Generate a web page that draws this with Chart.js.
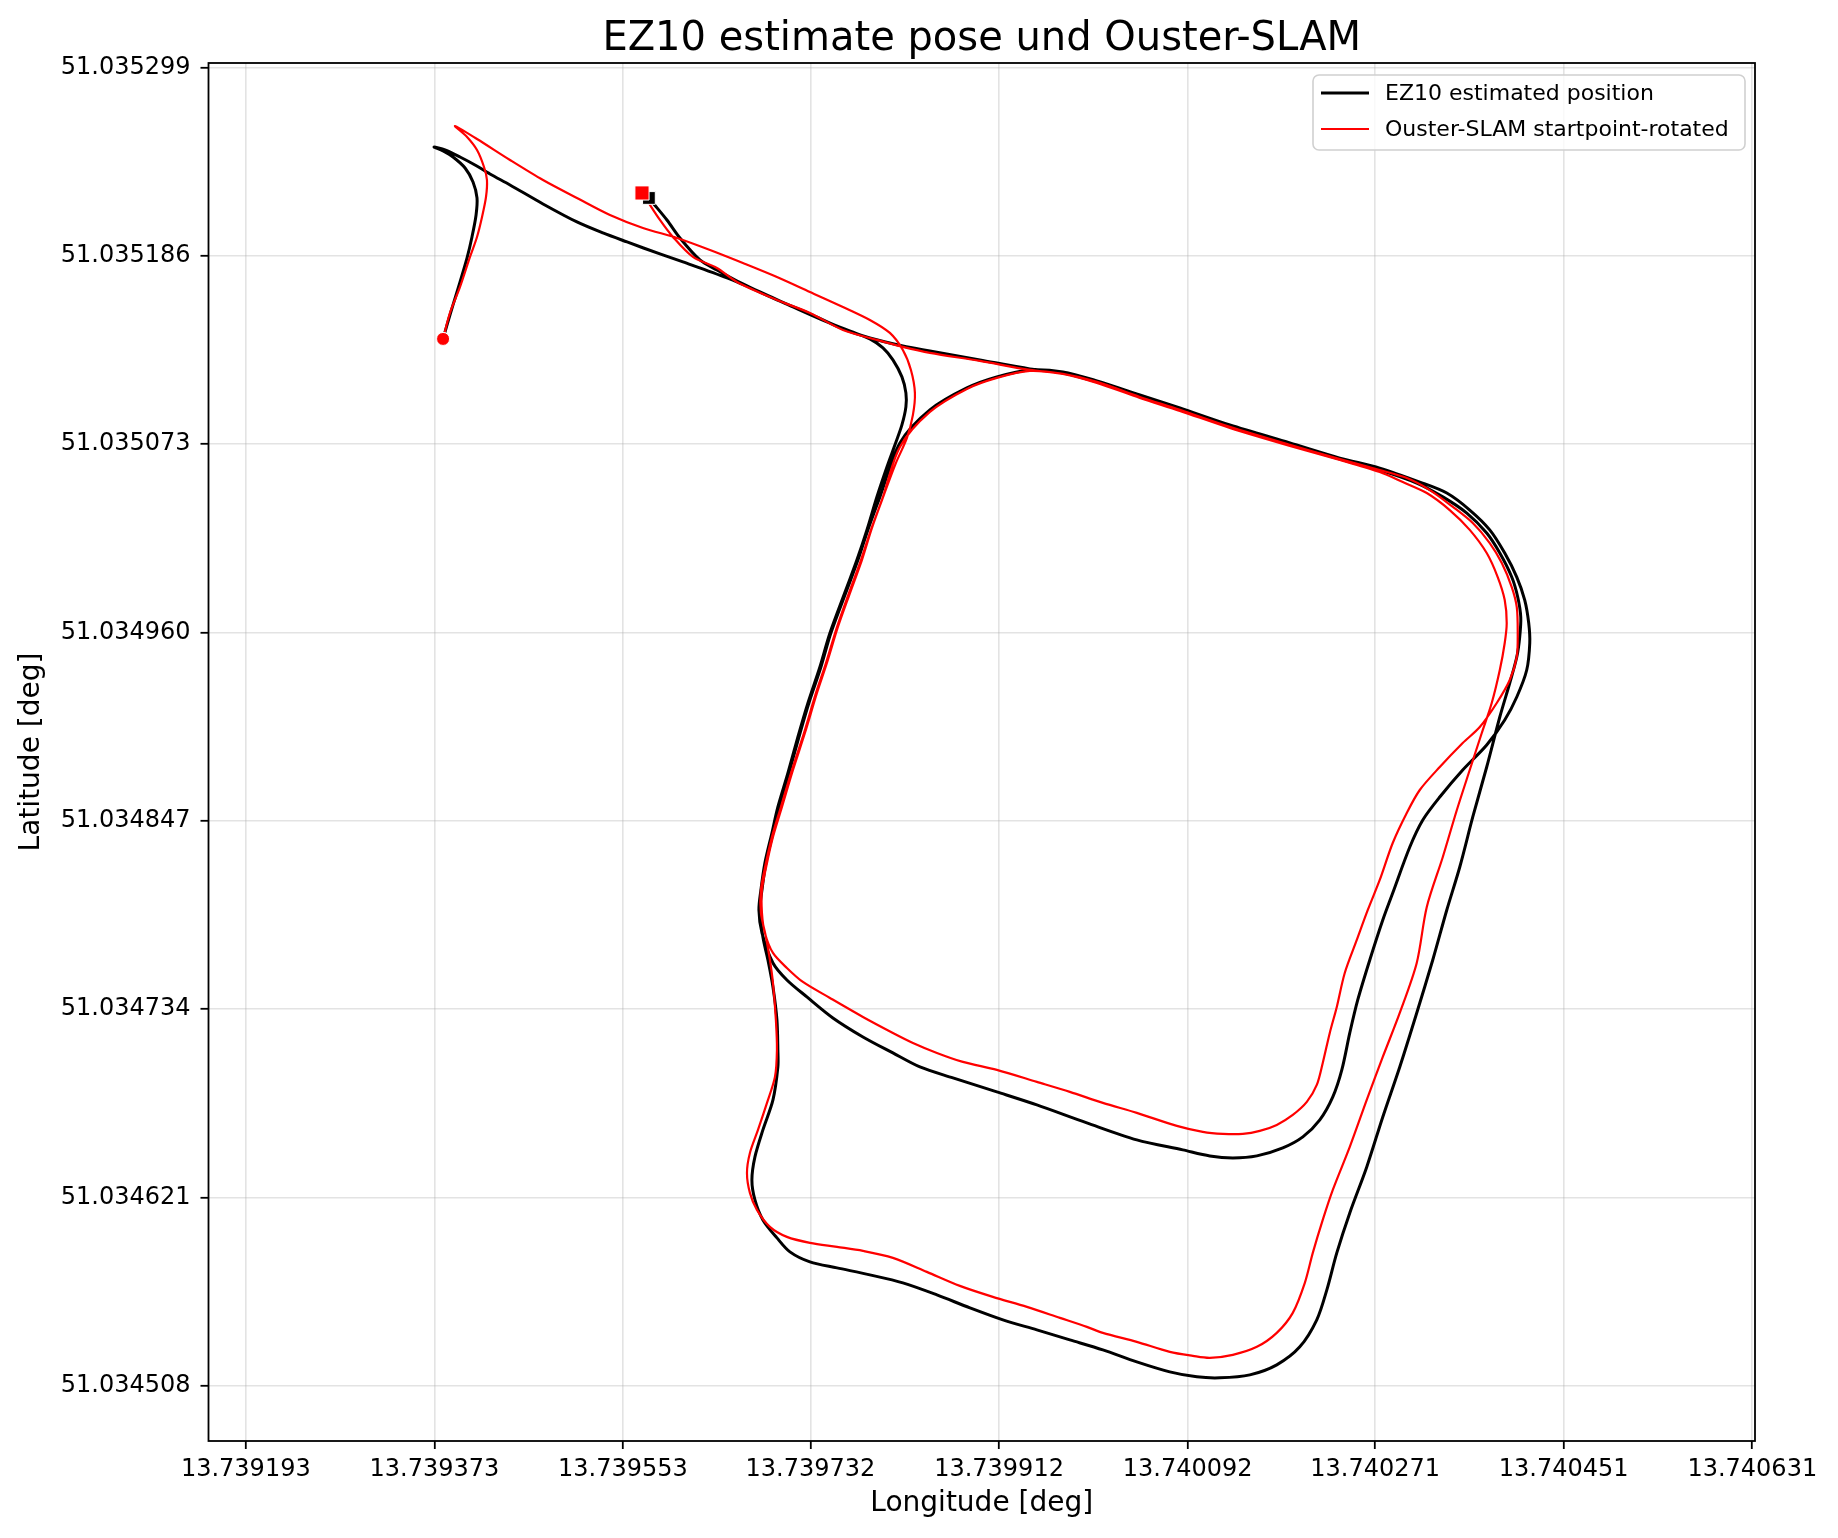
<!DOCTYPE html>
<html><head><meta charset="utf-8">
<script src="https://cdn.jsdelivr.net/npm/chart.js@4.4.1/dist/chart.umd.min.js"></script>
<style>html,body{margin:0;padding:0;background:#fff}#wrap{width:1838px;height:1538px}</style>
</head><body><div id="wrap"><canvas id="c" width="1838" height="1538" style="width:1838px;height:1538px"></canvas></div>
<script>
const titleText = 'EZ10 estimate pose und Ouster-SLAM';
const xLabel = 'Longitude [deg]';
const yLabel = 'Latitude [deg]';
const seriesNames = ['EZ10 estimated position', 'Ouster-SLAM startpoint-rotated'];
const lonTicks = [13.739193, 13.739373, 13.739553, 13.739732, 13.739912, 13.740092, 13.740271, 13.740451, 13.740631];
const latTicks = [51.034508, 51.034621, 51.034734, 51.034847, 51.034960, 51.035073, 51.035186, 51.035299];
const lonRange = [13.7391574, 13.7406336];
const latRange = [51.0344748, 51.0353018];

const ez10Lon = [13.7393813,13.7393851,13.7393908,13.7393975,13.7394042,13.7394089,13.7394128,13.7394137,13.7394099,13.7394023,13.7393908,13.7393813,13.7393727,13.7393832,13.7393975,13.7394118,13.7394261,13.7394452,13.7394767,13.7395091,13.7395339,13.7395569,13.7395883,13.7396103,13.7396523,13.7396838,13.7397153,13.7397477,13.7397744,13.7397887,13.7398012,13.7398107,13.7398193,13.7398231,13.7398231,13.7398193,13.7398126,13.7398050,13.7397954,13.7397859,13.7397763,13.7397668,13.7397506,13.7397410,13.7397296,13.7397200,13.7397105,13.7397009,13.7396952,13.7396885,13.7396847,13.7396828,13.7396857,13.7396962,13.7397095,13.7397286,13.7397534,13.7397821,13.7398107,13.7398365,13.7398680,13.7399099,13.7399481,13.7399958,13.7400435,13.7400874,13.7401132,13.7401352,13.7401581,13.7401829,13.7402020,13.7402182,13.7402306,13.7402392,13.7402468,13.7402544,13.7402659,13.7402783,13.7402878,13.7403041,13.7403165,13.7403327,13.7403546,13.7403775,13.7403947,13.7404062,13.7404157,13.7404186,13.7404176,13.7404138,13.7404062,13.7403947,13.7403804,13.7403613,13.7403394,13.7403136,13.7402754,13.7402373,13.7401896,13.7401323,13.7400846,13.7400464,13.7400054,13.7399729,13.7399414,13.7399099,13.7398813,13.7398460,13.7398174,13.7397983,13.7397868,13.7397773,13.7397678,13.7397515,13.7397420,13.7397305,13.7397210,13.7397114,13.7397019,13.7396962,13.7396895,13.7396857,13.7396838,13.7396866,13.7396914,13.7396962,13.7397000,13.7397009,13.7397009,13.7396962,13.7396866,13.7396790,13.7396761,13.7396790,13.7396866,13.7397000,13.7397124,13.7397315,13.7397573,13.7397887,13.7398202,13.7398527,13.7398842,13.7399157,13.7399481,13.7399796,13.7400111,13.7400435,13.7400750,13.7401008,13.7401228,13.7401514,13.7401771,13.7401991,13.7402153,13.7402249,13.7402344,13.7402468,13.7402630,13.7402783,13.7402945,13.7403107,13.7403260,13.7403394,13.7403518,13.7403642,13.7403775,13.7403900,13.7403995,13.7404062,13.7404090,13.7404100,13.7404071,13.7404014,13.7403900,13.7403775,13.7403585,13.7403356,13.7403107,13.7402754,13.7402373,13.7401896,13.7401323,13.7400846,13.7400464,13.7400054,13.7399729,13.7399414,13.7398937,13.7398460,13.7398202,13.7397887,13.7397630,13.7397315,13.7397000,13.7396675,13.7396427,13.7396265,13.7396074,13.7395950,13.7395817,13.7395778];
const ez10Lat = [51.0351362,51.0351446,51.0351566,51.0351704,51.0351848,51.0351974,51.0352106,51.0352208,51.0352304,51.0352388,51.0352454,51.0352490,51.0352514,51.0352496,51.0352454,51.0352406,51.0352352,51.0352286,51.0352172,51.0352064,51.0351998,51.0351944,51.0351872,51.0351824,51.0351728,51.0351644,51.0351554,51.0351464,51.0351398,51.0351362,51.0351308,51.0351236,51.0351134,51.0351038,51.0350954,51.0350846,51.0350726,51.0350594,51.0350414,51.0350216,51.0350035,51.0349873,51.0349597,51.0349393,51.0349177,51.0348973,51.0348757,51.0348553,51.0348397,51.0348217,51.0348055,51.0347935,51.0347797,51.0347617,51.0347515,51.0347413,51.0347287,51.0347173,51.0347077,51.0346993,51.0346927,51.0346843,51.0346765,51.0346657,51.0346555,51.0346495,51.0346459,51.0346447,51.0346459,51.0346507,51.0346573,51.0346675,51.0346813,51.0346975,51.0347197,51.0347395,51.0347635,51.0347875,51.0348037,51.0348313,51.0348475,51.0348613,51.0348775,51.0348925,51.0349075,51.0349213,51.0349375,51.0349537,51.0349657,51.0349795,51.0349933,51.0350077,51.0350216,51.0350335,51.0350437,51.0350503,51.0350587,51.0350647,51.0350738,51.0350846,51.0350948,51.0351026,51.0351110,51.0351164,51.0351176,51.0351134,51.0351068,51.0350936,51.0350738,51.0350414,51.0350216,51.0350035,51.0349873,51.0349597,51.0349393,51.0349177,51.0348973,51.0348757,51.0348553,51.0348397,51.0348217,51.0348055,51.0347935,51.0347773,51.0347635,51.0347473,51.0347275,51.0347095,51.0346993,51.0346795,51.0346615,51.0346453,51.0346315,51.0346195,51.0346075,51.0345967,51.0345883,51.0345823,51.0345787,51.0345745,51.0345697,51.0345625,51.0345547,51.0345475,51.0345415,51.0345355,51.0345295,51.0345223,51.0345163,51.0345133,51.0345127,51.0345145,51.0345205,51.0345313,51.0345475,51.0345655,51.0345877,51.0346117,51.0346393,51.0346693,51.0346993,51.0347317,51.0347635,51.0347935,51.0348193,51.0348493,51.0348793,51.0349093,51.0349297,51.0349453,51.0349573,51.0349693,51.0349813,51.0349933,51.0350077,51.0350197,51.0350317,51.0350414,51.0350497,51.0350575,51.0350641,51.0350732,51.0350840,51.0350942,51.0351020,51.0351104,51.0351158,51.0351182,51.0351236,51.0351290,51.0351320,51.0351368,51.0351422,51.0351512,51.0351596,51.0351692,51.0351776,51.0351836,51.0351968,51.0352076,51.0352178,51.0352208];

const slamLon = [13.7393813,13.7393879,13.7393975,13.7394070,13.7394137,13.7394185,13.7394223,13.7394232,13.7394204,13.7394137,13.7394042,13.7393927,13.7394137,13.7394452,13.7394767,13.7395091,13.7395406,13.7395721,13.7396046,13.7396361,13.7396675,13.7397000,13.7397315,13.7397630,13.7397887,13.7398078,13.7398202,13.7398279,13.7398317,13.7398298,13.7398241,13.7398136,13.7398021,13.7397907,13.7397811,13.7397697,13.7397582,13.7397477,13.7397382,13.7397267,13.7397153,13.7397048,13.7396962,13.7396905,13.7396857,13.7396857,13.7396885,13.7396962,13.7397095,13.7397248,13.7397506,13.7397821,13.7398107,13.7398298,13.7398527,13.7398775,13.7399099,13.7399481,13.7399796,13.7400111,13.7400435,13.7400817,13.7401065,13.7401256,13.7401447,13.7401609,13.7401771,13.7401924,13.7402058,13.7402153,13.7402210,13.7402277,13.7402344,13.7402420,13.7402535,13.7402640,13.7402754,13.7402878,13.7403012,13.7403136,13.7403327,13.7403546,13.7403709,13.7403871,13.7403995,13.7404062,13.7404071,13.7404062,13.7404014,13.7403919,13.7403804,13.7403642,13.7403452,13.7403232,13.7403012,13.7402754,13.7402373,13.7401896,13.7401323,13.7400846,13.7400464,13.7400054,13.7399729,13.7399414,13.7399099,13.7398813,13.7398460,13.7398174,13.7398002,13.7397897,13.7397802,13.7397687,13.7397573,13.7397468,13.7397372,13.7397258,13.7397143,13.7397038,13.7396952,13.7396895,13.7396847,13.7396847,13.7396895,13.7396933,13.7396962,13.7396990,13.7397000,13.7396981,13.7396905,13.7396819,13.7396742,13.7396714,13.7396742,13.7396809,13.7396933,13.7397095,13.7397315,13.7397573,13.7397821,13.7398107,13.7398431,13.7398746,13.7399061,13.7399386,13.7399701,13.7399958,13.7400111,13.7400435,13.7400750,13.7400970,13.7401132,13.7401352,13.7401581,13.7401771,13.7401924,13.7402039,13.7402115,13.7402210,13.7402306,13.7402468,13.7402630,13.7402783,13.7402945,13.7403107,13.7403203,13.7403356,13.7403490,13.7403613,13.7403728,13.7403823,13.7403900,13.7403947,13.7403966,13.7403947,13.7403880,13.7403775,13.7403613,13.7403422,13.7403203,13.7402974,13.7402754,13.7402373,13.7401896,13.7401323,13.7400846,13.7400464,13.7400054,13.7399729,13.7399414,13.7398937,13.7398460,13.7398202,13.7397954,13.7397630,13.7397315,13.7397000,13.7396618,13.7396427,13.7396198,13.7396007,13.7395883,13.7395769,13.7395712];
const slamLat = [51.0351362,51.0351518,51.0351674,51.0351854,51.0351974,51.0352094,51.0352214,51.0352316,51.0352394,51.0352496,51.0352574,51.0352640,51.0352562,51.0352436,51.0352316,51.0352208,51.0352106,51.0352028,51.0351968,51.0351896,51.0351818,51.0351734,51.0351644,51.0351554,51.0351476,51.0351398,51.0351296,51.0351176,51.0351038,51.0350906,51.0350768,51.0350618,51.0350426,51.0350228,51.0350035,51.0349837,51.0349633,51.0349417,51.0349237,51.0348997,51.0348775,51.0348553,51.0348373,51.0348217,51.0348055,51.0347917,51.0347797,51.0347677,51.0347587,51.0347503,51.0347407,51.0347293,51.0347197,51.0347137,51.0347077,51.0347023,51.0346975,51.0346903,51.0346843,51.0346777,51.0346717,51.0346639,51.0346603,51.0346591,51.0346591,51.0346609,51.0346645,51.0346705,51.0346783,51.0346885,51.0347017,51.0347197,51.0347353,51.0347557,51.0347755,51.0347935,51.0348115,51.0348337,51.0348517,51.0348655,51.0348793,51.0348937,51.0349033,51.0349177,51.0349315,51.0349453,51.0349597,51.0349753,51.0349873,51.0350017,51.0350137,51.0350257,51.0350354,51.0350455,51.0350527,51.0350575,51.0350641,51.0350726,51.0350834,51.0350936,51.0351014,51.0351104,51.0351152,51.0351170,51.0351128,51.0351062,51.0350924,51.0350714,51.0350396,51.0350216,51.0350035,51.0349837,51.0349633,51.0349417,51.0349237,51.0348997,51.0348775,51.0348553,51.0348373,51.0348217,51.0348055,51.0347917,51.0347773,51.0347635,51.0347497,51.0347275,51.0347095,51.0346933,51.0346777,51.0346615,51.0346477,51.0346357,51.0346237,51.0346135,51.0346033,51.0345973,51.0345937,51.0345913,51.0345889,51.0345847,51.0345763,51.0345679,51.0345613,51.0345553,51.0345487,51.0345433,51.0345397,51.0345343,51.0345283,51.0345259,51.0345247,51.0345265,51.0345313,51.0345397,51.0345517,51.0345697,51.0345877,51.0346075,51.0346255,51.0346513,51.0346795,51.0347053,51.0347317,51.0347617,51.0347953,51.0348253,51.0348535,51.0348775,51.0348997,51.0349177,51.0349375,51.0349537,51.0349657,51.0349795,51.0349933,51.0350077,51.0350216,51.0350335,51.0350437,51.0350503,51.0350563,51.0350636,51.0350720,51.0350828,51.0350930,51.0351008,51.0351098,51.0351152,51.0351176,51.0351230,51.0351278,51.0351314,51.0351356,51.0351416,51.0351518,51.0351596,51.0351704,51.0351788,51.0351854,51.0351974,51.0352076,51.0352184,51.0352238];

const toPts = (xs, ys) => xs.map((x, i) => ({x: x, y: ys[i]}));
const ez10Pts = toPts(ez10Lon, ez10Lat);
const slamPts = toPts(slamLon, slamLat);
const first = a => [a[0]];
const last = a => [a[a.length - 1]];

Chart.defaults.font.family = "'DejaVu Sans', sans-serif";
Chart.defaults.color = '#000';

const FONT = "'DejaVu Sans', sans-serif";

const framePlugin = {
  id: 'frame',
  afterDraw(chart) {
    const {ctx, chartArea: a} = chart;
    ctx.save();
    ctx.strokeStyle = '#000';
    ctx.lineWidth = 1.8;
    ctx.strokeRect(a.left, a.top, a.right - a.left, a.bottom - a.top);
    // title
    ctx.fillStyle = '#000';
    ctx.font = '40px ' + FONT;
    ctx.textAlign = 'center';
    ctx.textBaseline = 'alphabetic';
    ctx.fillText(titleText, (a.left + a.right) / 2, 50);
    // legend
    const bx = 1313, by = 75, bw = 432, bh = 75, r = 6;
    ctx.beginPath();
    ctx.moveTo(bx + r, by);
    ctx.arcTo(bx + bw, by, bx + bw, by + bh, r);
    ctx.arcTo(bx + bw, by + bh, bx, by + bh, r);
    ctx.arcTo(bx, by + bh, bx, by, r);
    ctx.arcTo(bx, by, bx + bw, by, r);
    ctx.closePath();
    ctx.fillStyle = 'rgba(255,255,255,0.8)';
    ctx.fill();
    ctx.strokeStyle = '#d0d0d0';
    ctx.lineWidth = 1.6;
    ctx.stroke();
    const ds = chart.data.datasets;
    const rows = [93, 129];
    ctx.font = '22px ' + FONT;
    ctx.textAlign = 'left';
    ctx.textBaseline = 'middle';
    for (let i = 0; i < 2; i++) {
      ctx.beginPath();
      ctx.moveTo(1321, rows[i]);
      ctx.lineTo(1369, rows[i]);
      ctx.strokeStyle = ds[i].borderColor;
      ctx.lineWidth = ds[i].borderWidth;
      ctx.stroke();
      ctx.fillStyle = '#000';
      ctx.fillText(ds[i].label, 1385, rows[i] + 1);
    }
    ctx.restore();
  }
};

const gridCommon = {
  color: 'rgba(176,176,176,0.35)',
  lineWidth: 1.6,
  tickColor: '#000',
  tickWidth: 1.8,
  tickLength: 8,
  drawTicks: true
};

new Chart(document.getElementById('c'), {
  type: 'scatter',
  data: {
    datasets: [
      {label: seriesNames[0], data: ez10Pts, showLine: true, borderColor: '#000000', backgroundColor: '#000000', borderWidth: 3, pointRadius: 0, tension: 0.3, borderJoinStyle: 'round', borderCapStyle: 'round', order: 5},
      {label: seriesNames[1], data: slamPts, showLine: true, borderColor: '#ff0000', backgroundColor: '#ff0000', borderWidth: 2.2, pointRadius: 0, tension: 0.3, borderJoinStyle: 'round', borderCapStyle: 'round', order: 4},
      {label: 'ez10 start', data: first(ez10Pts), pointStyle: 'circle', pointRadius: 6.5, backgroundColor: '#000', borderColor: '#fff', borderWidth: 1, order: 3},
      {label: 'ez10 end', data: last(ez10Pts), pointStyle: 'rect', pointRadius: 9, backgroundColor: '#000', borderColor: '#fff', borderWidth: 1, order: 2},
      {label: 'slam start', data: first(slamPts), pointStyle: 'circle', pointRadius: 6.5, backgroundColor: '#ff0000', borderColor: '#fff', borderWidth: 1, order: 1},
      {label: 'slam end', data: last(slamPts), pointStyle: 'rect', pointRadius: 10, backgroundColor: '#ff0000', borderColor: '#fff', borderWidth: 1, order: 0}
    ]
  },
  options: {
    responsive: false,
    animation: false,
    devicePixelRatio: 1,
    layout: {padding: {left: 0, top: 63, right: 83, bottom: 0}},
    plugins: {legend: {display: false}, title: {display: false}, tooltip: {enabled: false}},
    events: [],
    scales: {
      x: {
        type: 'linear', position: 'bottom',
        min: lonRange[0], max: lonRange[1],
        afterBuildTicks: ax => { ax.ticks = lonTicks.map(v => ({value: v})); },
        afterFit: ax => { ax.height = 97; },
        ticks: {font: {size: 24}, color: '#000', padding: 6, maxRotation: 0, autoSkip: false, callback: v => Number(v).toFixed(6)},
        grid: gridCommon,
        border: {display: false},
        title: {display: true, text: xLabel, font: {size: 28}, color: '#000', padding: {top: 0, bottom: 17}}
      },
      y: {
        type: 'linear', position: 'left',
        min: latRange[0], max: latRange[1],
        afterBuildTicks: ax => { ax.ticks = latTicks.map(v => ({value: v})); },
        afterFit: ax => { ax.width = 208.5; },
        ticks: {font: {size: 24}, color: '#000', padding: 10, autoSkip: false, callback: v => Number(v).toFixed(6)},
        grid: gridCommon,
        border: {display: false},
        title: {display: true, text: yLabel, font: {size: 28}, color: '#000', padding: {top: 15, bottom: 0}}
      }
    }
  },
  plugins: [framePlugin]
});
</script>
</body></html>
